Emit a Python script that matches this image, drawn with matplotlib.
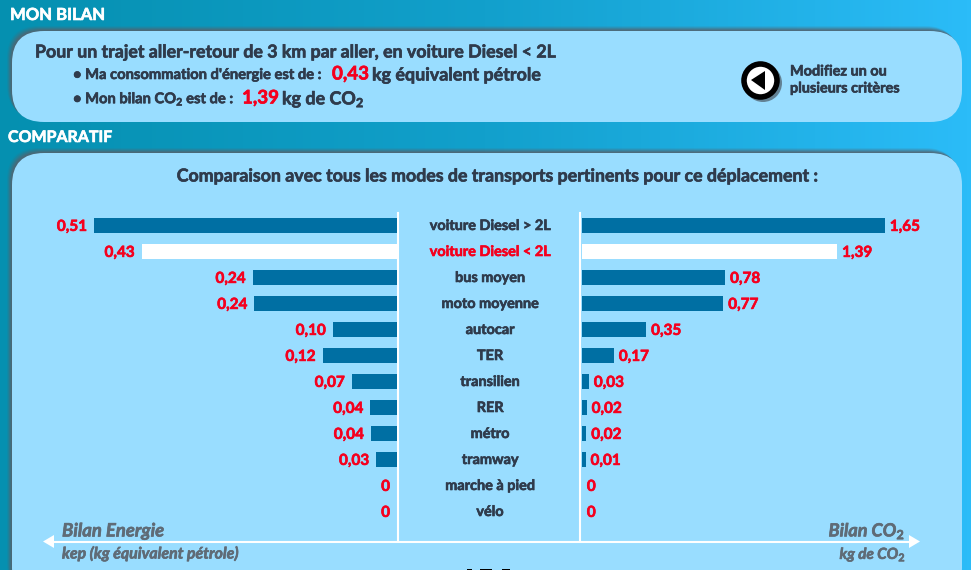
import matplotlib
matplotlib.use("Agg")
from matplotlib import pyplot as plt
from matplotlib.patches import FancyBboxPatch, Circle, Polygon, Rectangle
import matplotlib.patheffects as pe
import numpy as np

plt.rcParams['font.family'] = ['Lato', 'DejaVu Sans']
plt.rcParams['mathtext.fontset'] = 'custom'
plt.rcParams['mathtext.rm'] = 'Lato:bold'
plt.rcParams['mathtext.it'] = 'Lato:italic:bold'
plt.rcParams['mathtext.bf'] = 'Lato:bold'

modes = ['voiture Diesel > 2L', 'voiture Diesel < 2L', 'bus moyen', 'moto moyenne', 'autocar', 'TER',
         'transilien', 'RER', 'métro', 'tramway', 'marche à pied', 'vélo']
energie = [0.51, 0.43, 0.243, 0.24, 0.108, 0.125, 0.076, 0.045, 0.044, 0.035, 0, 0]
energie_labels = ['0,51', '0,43', '0,24', '0,24', '0,10', '0,12', '0,07', '0,04', '0,04', '0,03', '0', '0']
co2 = [1.65, 1.39, 0.78, 0.77, 0.35, 0.174, 0.038, 0.026, 0.024, 0.02, 0, 0]
co2_labels = ['1,65', '1,39', '0,78', '0,77', '0,35', '0,17', '0,03', '0,02', '0,02', '0,01', '0', '0']
highlight = 1

W, H = 971, 570
DARK = '#2f3b4c'
RED = '#f5001e'
GREY = '#5f6b76'
BAR = '#006fa3'
PANEL = '#99ddff'

fig = plt.figure(figsize=(W / 100, H / 100), dpi=100)
bg = fig.add_axes([0, 0, 1, 1])
bg.set_xlim(0, W)
bg.set_ylim(H, 0)
bg.axis('off')

# background gradient
grad = np.linspace(0, 1, 256).reshape(1, -1)
cmap = matplotlib.colors.LinearSegmentedColormap.from_list('bg', ['#0590b0', '#12a0cc', '#2bbcf8'])
bg.imshow(grad, extent=[0, W, H, 0], aspect='auto', cmap=cmap, zorder=0)


def heavy(color, w=0.45):
    return [pe.withStroke(linewidth=w, foreground=color)]


def label(x, y, s, color=DARK, size=10, **kw):
    return bg.text(x, y, s, color=color, fontsize=size, fontweight='bold', va='center', zorder=3,
                   path_effects=heavy(color), **kw)


def panel(x0, y0, x1, y1):
    r = 32
    # soft shadow on the top and left edges
    for off, alpha in [(5, 0.12), (4, 0.2), (3, 0.3), (2, 0.4), (1, 0.5)]:
        bg.add_patch(FancyBboxPatch((x0 + r - off, y0 + r - off), x1 - x0 - 2 * r, y1 - y0 - 2 * r,
                                    boxstyle='round,pad=%d,rounding_size=%d' % (r, r),
                                    fc='#56636e', ec='none', zorder=1, alpha=alpha))
    bg.add_patch(FancyBboxPatch((x0 + r, y0 + r), x1 - x0 - 2 * r, y1 - y0 - 2 * r,
                                boxstyle='round,pad=%d,rounding_size=%d' % (r, r),
                                fc=PANEL, ec='none', zorder=2))


panel(12, 31, 962, 122)
panel(12, 153, 962, 600)

label(10, 15, 'MON BILAN', color='white', size=12)
label(8, 138, 'COMPARATIF', color='white', size=11.5)

label(35, 52, 'Pour un trajet aller-retour de 3 km par aller, en voiture Diesel < 2L', size=12.8)
label(73, 75, '• Ma consommation d\'énergie est de :', size=10.6)
label(332, 74, '0,43', color=RED, size=13.5)
label(372, 75, 'kg équivalent pétrole', size=12.9)
label(73, 99, '• Mon bilan CO$_2$ est de :', size=10.6)
label(242, 98, '1,39', color=RED, size=13.5)
label(282, 99, 'kg de CO$_2$', size=12.9)

# bouton retour
bg.add_patch(Circle((763, 83), 19, fc='#4b5a66', ec='none', alpha=0.7, zorder=3))
bg.add_patch(Circle((760.5, 80.5), 16.5, fc='white', ec='black', lw=4, zorder=4))
bg.add_patch(Polygon([[751, 80], [765, 71], [765, 90]], fc='black', ec='none', zorder=5))
label(790, 71.5, 'Modifiez un ou', size=10.4)
label(790, 88.5, 'plusieurs critères', size=10.4)

label(499, 176, 'Comparaison avec tous les modes de transports pertinents pour ce déplacement :',
      size=12.8, ha='center')

# graduations verticales et axe du bas
bg.plot([398, 398], [213, 541], color='white', lw=1.5, zorder=3)
bg.plot([580, 580], [213, 541], color='white', lw=1.5, zorder=3)
bg.plot([54, 910], [541.5, 541.5], color='white', lw=1.5, zorder=3)
bg.add_patch(Polygon([[43, 541.5], [54, 535], [54, 548]], fc='white', ec='none', zorder=3))
bg.add_patch(Polygon([[920, 541.5], [909, 535], [909, 548]], fc='white', ec='none', zorder=3))

label(62, 531, 'Bilan Energie', color=GREY, size=13.3, style='italic')
label(62, 554, 'kep (kg équivalent pétrole)', color=GREY, size=11.4, style='italic')
label(905, 531, 'Bilan CO$_2$', color=GREY, size=13, style='italic', ha='right')
label(906, 555, 'kg de CO$_2$', color=GREY, size=11, style='italic', ha='right')

# bas de la page suivante, coupé par le cadre
for x0, x1 in [(467, 472), (480, 492), (502, 510)]:
    bg.add_patch(Rectangle((x0, 568.5), x1 - x0, 2, fc='black', ec='none', zorder=3))

# axes of the two bar charts, in pixels of the figure
top, bottom = 212.5, 524.5
y = np.arange(len(modes))
colors = ['white' if i == highlight else BAR for i in y]

ax_l = fig.add_axes([37 / W, 1 - bottom / H, (397 - 37) / W, (bottom - top) / H])
ax_l.barh(y, energie, height=0.6, color=colors)
ax_l.set_xlim((397 - 37) / 594, 0)
ax_l.set_ylim(len(modes) - 0.5, -0.5)
ax_l.axis('off')
ax_l.patch.set_alpha(0)

ax_r = fig.add_axes([582 / W, 1 - bottom / H, (960 - 582) / W, (bottom - top) / H])
ax_r.barh(y, co2, height=0.6, color=colors)
ax_r.set_xlim(0, (960 - 582) / 183.6)
ax_r.set_ylim(len(modes) - 0.5, -0.5)
ax_r.axis('off')
ax_r.patch.set_alpha(0)

for i in y:
    ax_l.annotate(energie_labels[i], (energie[i], i), xytext=(-5, -1), textcoords='offset points',
                  ha='right', va='center', color=RED, fontsize=11, fontweight='bold',
                  path_effects=heavy(RED))
    ax_r.annotate(co2_labels[i], (co2[i], i), xytext=(3.5, -1), textcoords='offset points',
                  ha='left', va='center', color=RED, fontsize=11, fontweight='bold',
                  path_effects=heavy(RED))
    label(490, 226 + i * 26, modes[i], color=RED if i == highlight else DARK, size=10.4, ha='center')

fig.savefig('out.png', dpi=100)
